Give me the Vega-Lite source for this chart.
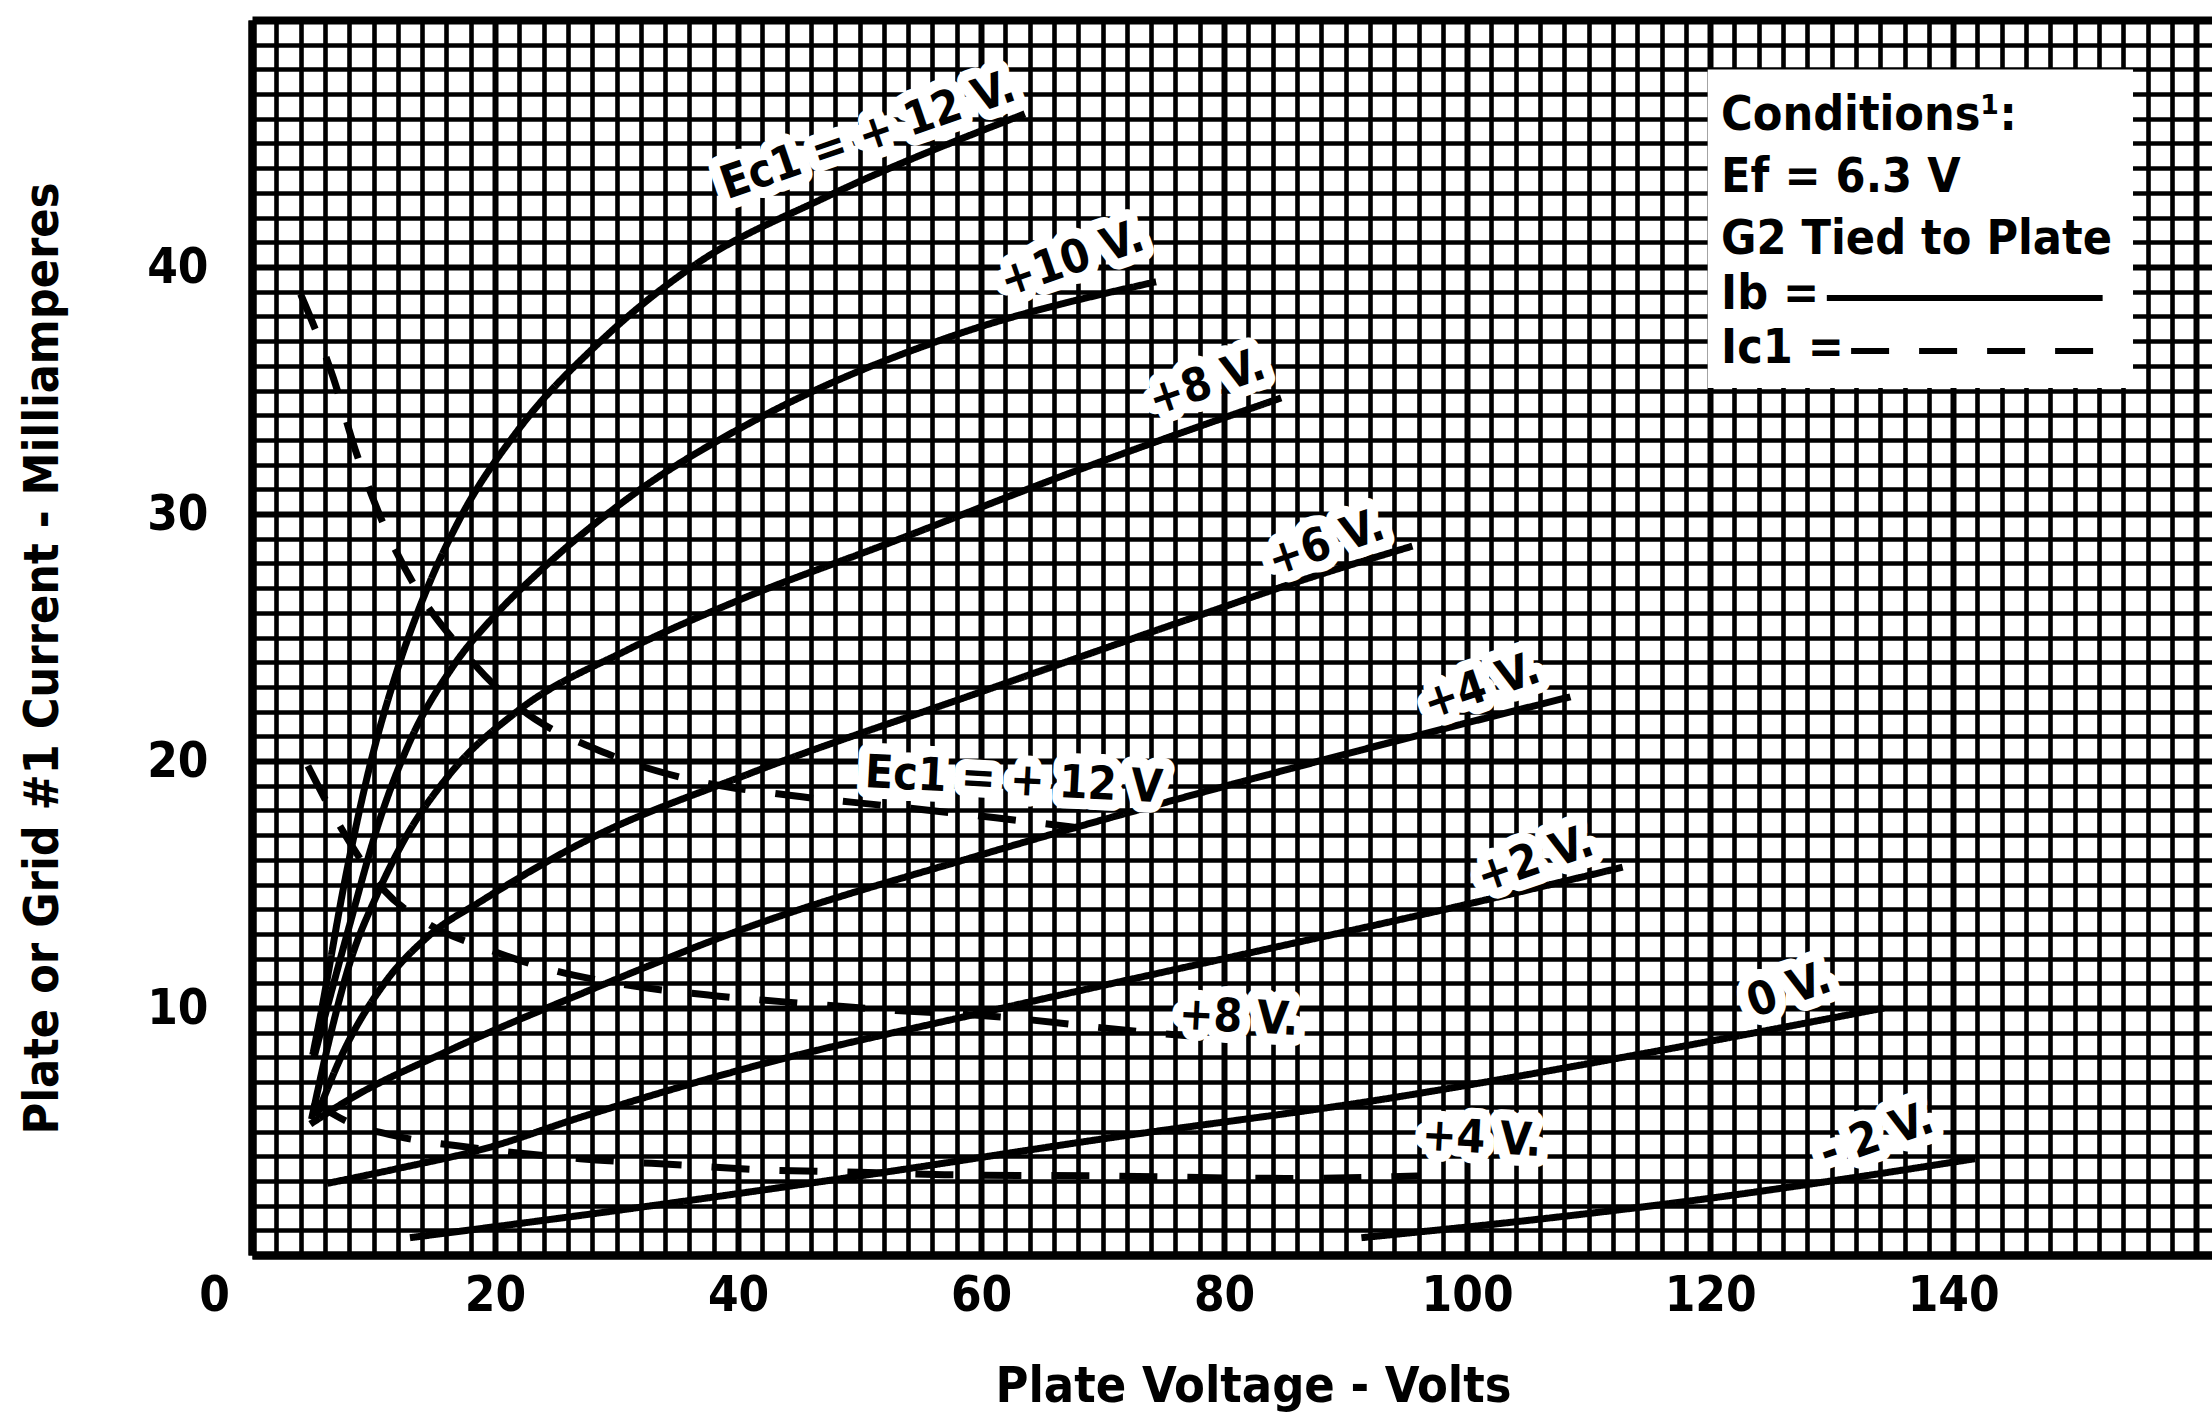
{
  "$schema": "https://vega.github.io/schema/vega-lite/v6.json",
  "width": 1960,
  "height": 1235,
  "autosize": "none",
  "padding": {"left": 252, "top": 20, "right": 0, "bottom": 160},
  "background": "white",
  "config": {
    "view": {"stroke": null},
    "axis": {
      "labelFont": "Liberation Sans Narrow, DejaVu Sans Condensed, DejaVu Sans, sans-serif",
      "titleFont": "Liberation Sans Narrow, DejaVu Sans Condensed, DejaVu Sans, sans-serif",
      "labelFontWeight": "bold",
      "titleFontWeight": "bold",
      "labelColor": "black",
      "titleColor": "black",
      "domainColor": "black",
      "gridColor": "black",
      "gridOpacity": 1,
      "ticks": false,
      "tickCount": 200
    },
    "text": {"font": "Liberation Sans Narrow, DejaVu Sans Condensed, DejaVu Sans, sans-serif", "fontWeight": "bold"}
  },
  "datasets": {
    "curves": [
      {"c": "ib12", "kind": "Ib", "v": 5.0, "i": 8.1},
      {"c": "ib12", "kind": "Ib", "v": 5.6, "i": 9.6},
      {"c": "ib12", "kind": "Ib", "v": 7.7, "i": 15.3},
      {"c": "ib12", "kind": "Ib", "v": 9.8, "i": 20.0},
      {"c": "ib12", "kind": "Ib", "v": 11.9, "i": 23.6},
      {"c": "ib12", "kind": "Ib", "v": 14.6, "i": 27.2},
      {"c": "ib12", "kind": "Ib", "v": 17.1, "i": 29.8},
      {"c": "ib12", "kind": "Ib", "v": 21.9, "i": 33.4},
      {"c": "ib12", "kind": "Ib", "v": 28.7, "i": 37.0},
      {"c": "ib12", "kind": "Ib", "v": 36.5, "i": 40.1},
      {"c": "ib12", "kind": "Ib", "v": 47.1, "i": 42.8},
      {"c": "ib12", "kind": "Ib", "v": 63.6, "i": 46.2},
      {"c": "ib10", "kind": "Ib", "v": 5.1, "i": 8.0},
      {"c": "ib10", "kind": "Ib", "v": 8.0, "i": 13.3},
      {"c": "ib10", "kind": "Ib", "v": 10.5, "i": 17.6},
      {"c": "ib10", "kind": "Ib", "v": 13.0, "i": 20.8},
      {"c": "ib10", "kind": "Ib", "v": 16.5, "i": 23.8},
      {"c": "ib10", "kind": "Ib", "v": 20.0, "i": 25.9},
      {"c": "ib10", "kind": "Ib", "v": 23.5, "i": 27.6},
      {"c": "ib10", "kind": "Ib", "v": 31.4, "i": 30.8},
      {"c": "ib10", "kind": "Ib", "v": 41.8, "i": 33.9},
      {"c": "ib10", "kind": "Ib", "v": 57.6, "i": 37.2},
      {"c": "ib10", "kind": "Ib", "v": 74.4, "i": 39.4},
      {"c": "ib8", "kind": "Ib", "v": 4.9, "i": 5.5},
      {"c": "ib8", "kind": "Ib", "v": 6.5, "i": 9.0},
      {"c": "ib8", "kind": "Ib", "v": 8.1, "i": 11.9},
      {"c": "ib8", "kind": "Ib", "v": 10.3, "i": 14.6},
      {"c": "ib8", "kind": "Ib", "v": 12.3, "i": 16.6},
      {"c": "ib8", "kind": "Ib", "v": 16.5, "i": 19.6},
      {"c": "ib8", "kind": "Ib", "v": 21.8, "i": 22.0},
      {"c": "ib8", "kind": "Ib", "v": 30.9, "i": 24.5},
      {"c": "ib8", "kind": "Ib", "v": 40.0, "i": 26.5},
      {"c": "ib8", "kind": "Ib", "v": 52.3, "i": 28.8},
      {"c": "ib8", "kind": "Ib", "v": 68.1, "i": 31.8},
      {"c": "ib8", "kind": "Ib", "v": 84.7, "i": 34.7},
      {"c": "ib6", "kind": "Ib", "v": 5.3, "i": 5.6},
      {"c": "ib6", "kind": "Ib", "v": 7.5, "i": 8.2},
      {"c": "ib6", "kind": "Ib", "v": 10.9, "i": 11.0},
      {"c": "ib6", "kind": "Ib", "v": 14.5, "i": 12.9},
      {"c": "ib6", "kind": "Ib", "v": 19.1, "i": 14.4},
      {"c": "ib6", "kind": "Ib", "v": 27.2, "i": 16.7},
      {"c": "ib6", "kind": "Ib", "v": 41.0, "i": 19.5},
      {"c": "ib6", "kind": "Ib", "v": 60.0, "i": 22.8},
      {"c": "ib6", "kind": "Ib", "v": 78.0, "i": 25.9},
      {"c": "ib6", "kind": "Ib", "v": 86.3, "i": 27.3},
      {"c": "ib6", "kind": "Ib", "v": 95.5, "i": 28.7},
      {"c": "ib4", "kind": "Ib", "v": 4.8, "i": 5.3},
      {"c": "ib4", "kind": "Ib", "v": 8.0, "i": 6.3},
      {"c": "ib4", "kind": "Ib", "v": 16.3, "i": 8.3},
      {"c": "ib4", "kind": "Ib", "v": 27.2, "i": 10.6},
      {"c": "ib4", "kind": "Ib", "v": 41.0, "i": 13.3},
      {"c": "ib4", "kind": "Ib", "v": 60.0, "i": 16.2},
      {"c": "ib4", "kind": "Ib", "v": 86.3, "i": 19.8},
      {"c": "ib4", "kind": "Ib", "v": 108.5, "i": 22.6},
      {"c": "ib2", "kind": "Ib", "v": 6.2, "i": 2.9},
      {"c": "ib2", "kind": "Ib", "v": 12.0, "i": 3.5},
      {"c": "ib2", "kind": "Ib", "v": 19.1, "i": 4.3},
      {"c": "ib2", "kind": "Ib", "v": 27.2, "i": 5.6},
      {"c": "ib2", "kind": "Ib", "v": 41.0, "i": 7.6},
      {"c": "ib2", "kind": "Ib", "v": 60.0, "i": 9.8},
      {"c": "ib2", "kind": "Ib", "v": 80.0, "i": 12.0},
      {"c": "ib2", "kind": "Ib", "v": 100.0, "i": 14.2},
      {"c": "ib2", "kind": "Ib", "v": 112.8, "i": 15.7},
      {"c": "ib0", "kind": "Ib", "v": 13.0, "i": 0.7},
      {"c": "ib0", "kind": "Ib", "v": 30.0, "i": 1.8},
      {"c": "ib0", "kind": "Ib", "v": 50.0, "i": 3.2},
      {"c": "ib0", "kind": "Ib", "v": 70.0, "i": 4.7},
      {"c": "ib0", "kind": "Ib", "v": 93.0, "i": 6.3},
      {"c": "ib0", "kind": "Ib", "v": 115.0, "i": 8.2},
      {"c": "ib0", "kind": "Ib", "v": 134.3, "i": 10.0},
      {"c": "ibm2", "kind": "Ib", "v": 91.3, "i": 0.7},
      {"c": "ibm2", "kind": "Ib", "v": 105.0, "i": 1.4},
      {"c": "ibm2", "kind": "Ib", "v": 118.5, "i": 2.2},
      {"c": "ibm2", "kind": "Ib", "v": 130.0, "i": 3.0},
      {"c": "ibm2", "kind": "Ib", "v": 141.8, "i": 3.9},
      {"c": "ic12", "kind": "Ic1", "v": 4.0, "i": 38.9},
      {"c": "ic12", "kind": "Ic1", "v": 6.7, "i": 35.5},
      {"c": "ic12", "kind": "Ic1", "v": 8.5, "i": 32.6},
      {"c": "ic12", "kind": "Ic1", "v": 10.9, "i": 29.5},
      {"c": "ic12", "kind": "Ic1", "v": 13.5, "i": 27.0},
      {"c": "ic12", "kind": "Ic1", "v": 17.1, "i": 24.6},
      {"c": "ic12", "kind": "Ic1", "v": 21.9, "i": 22.2},
      {"c": "ic12", "kind": "Ic1", "v": 29.2, "i": 20.3},
      {"c": "ic12", "kind": "Ic1", "v": 35.6, "i": 19.3},
      {"c": "ic12", "kind": "Ic1", "v": 44.4, "i": 18.6},
      {"c": "ic12", "kind": "Ic1", "v": 52.0, "i": 18.2},
      {"c": "ic12", "kind": "Ic1", "v": 61.2, "i": 17.7},
      {"c": "ic12", "kind": "Ic1", "v": 68.0, "i": 17.3},
      {"c": "ic8", "kind": "Ic1", "v": 4.6, "i": 19.8},
      {"c": "ic8", "kind": "Ic1", "v": 7.2, "i": 17.4},
      {"c": "ic8", "kind": "Ic1", "v": 10.8, "i": 14.8},
      {"c": "ic8", "kind": "Ic1", "v": 14.5, "i": 13.4},
      {"c": "ic8", "kind": "Ic1", "v": 19.3, "i": 12.4},
      {"c": "ic8", "kind": "Ic1", "v": 25.0, "i": 11.5},
      {"c": "ic8", "kind": "Ic1", "v": 30.0, "i": 11.0},
      {"c": "ic8", "kind": "Ic1", "v": 38.0, "i": 10.5},
      {"c": "ic8", "kind": "Ic1", "v": 45.0, "i": 10.2},
      {"c": "ic8", "kind": "Ic1", "v": 53.0, "i": 9.9},
      {"c": "ic8", "kind": "Ic1", "v": 60.0, "i": 9.7},
      {"c": "ic8", "kind": "Ic1", "v": 74.0, "i": 9.0},
      {"c": "ic8", "kind": "Ic1", "v": 79.0, "i": 8.8},
      {"c": "ic4", "kind": "Ic1", "v": 5.0, "i": 6.2},
      {"c": "ic4", "kind": "Ic1", "v": 8.3, "i": 5.3},
      {"c": "ic4", "kind": "Ic1", "v": 12.0, "i": 4.8},
      {"c": "ic4", "kind": "Ic1", "v": 18.0, "i": 4.35},
      {"c": "ic4", "kind": "Ic1", "v": 27.0, "i": 3.9},
      {"c": "ic4", "kind": "Ic1", "v": 35.0, "i": 3.65},
      {"c": "ic4", "kind": "Ic1", "v": 42.0, "i": 3.45},
      {"c": "ic4", "kind": "Ic1", "v": 50.0, "i": 3.35},
      {"c": "ic4", "kind": "Ic1", "v": 57.0, "i": 3.25},
      {"c": "ic4", "kind": "Ic1", "v": 70.0, "i": 3.2},
      {"c": "ic4", "kind": "Ic1", "v": 85.0, "i": 3.1},
      {"c": "ic4", "kind": "Ic1", "v": 96.0, "i": 3.2}
    ],
    "labels": [
      {"kind": "Ib", "t": "Ec1 = + 12 V.", "v": 50.7, "i": 45.3},
      {"kind": "Ib", "t": "+10 V.", "v": 67.5, "i": 40.3},
      {"kind": "Ib", "t": "+8 V.", "v": 78.6, "i": 35.3},
      {"kind": "Ib", "t": "+6 V.", "v": 88.4, "i": 28.8},
      {"kind": "Ib", "t": "+4 V.", "v": 101.2, "i": 23.0},
      {"kind": "Ib", "t": "+2 V.", "v": 105.6, "i": 16.0},
      {"kind": "Ib", "t": "0 V.", "v": 126.5, "i": 10.7},
      {"kind": "Ib", "t": "- 2 V.", "v": 133.7, "i": 4.8},
      {"kind": "Ic1", "t": "Ec1 = + 12 V", "v": 62.7, "i": 19.2},
      {"kind": "Ic1", "t": "+8 V.", "v": 81.2, "i": 9.6},
      {"kind": "Ic1", "t": "+4 V.", "v": 101.2, "i": 4.7}
    ],
    "notes": [
      {"t": "Conditions¹:", "v": 120.9, "i": 46.1},
      {"t": "Ef = 6.3 V", "v": 120.9, "i": 43.6},
      {"t": "G2 Tied to Plate", "v": 120.9, "i": 41.1},
      {"t": "Ib =", "v": 120.9, "i": 38.85},
      {"t": "Ic1 =", "v": 120.9, "i": 36.7}
    ],
    "keys": [
      {"kind": "Ib", "v1": 129.6, "v2": 152.3, "i": 38.75},
      {"kind": "Ic1", "v1": 131.6, "v2": 151.8, "i": 36.6}
    ],
    "box": [
      {"v1": 119.8, "v2": 154.8, "i1": 48.0, "i2": 35.1}
    ]
  },
  "layer": [
    {
      "data": {"name": "curves"},
      "mark": {"type": "line", "interpolate": "monotone", "strokeWidth": 7, "color": "black", "clip": true},
      "encoding": {
        "x": {
          "field": "v",
          "type": "quantitative",
          "scale": {"domain": [0, 161.3], "nice": false, "zero": false},
          "axis": {
            "title": "Plate Voltage - Volts",
            "values": [0,2,4,6,8,10,12,14,16,18,20,22,24,26,28,30,32,34,36,38,40,42,44,46,48,50,52,54,56,58,60,62,64,66,68,70,72,74,76,78,80,82,84,86,88,90,92,94,96,98,100,102,104,106,108,110,112,114,116,118,120,122,124,126,128,130,132,134,136,138,140,142,144,146,148,150,152,154,156,158,160],
            "tickCount": 200,
            "format": "d",
            "labelExpr": "datum.value % 20 == 0 && datum.value <= 140 ? datum.label : ''",
            "labelFontSize": 49,
            "labelPadding": 16,
            "labelFlush": false,
            "labelOverlap": false,
            "labelBound": false,
            "labelOffset": {"condition": {"test": "datum.value == 0", "value": -38}, "value": 0},
            "domainWidth": 8,
            "gridWidth": {"condition": [{"test": "datum.value == 0", "value": 8}, {"test": "datum.value % 20 == 0", "value": 6}], "value": 4.6},
            "titleFontSize": 50,
            "titleX": 1001,
            "titleY": 146,
            "titleBaseline": "alphabetic",
            "titleAlign": "center"
          }
        },
        "y": {
          "field": "i",
          "type": "quantitative",
          "scale": {"domain": [0, 50], "nice": false},
          "axis": {
            "title": "Plate or Grid #1 Current - Milliamperes",
            "values": [0,1,2,3,4,5,6,7,8,9,10,11,12,13,14,15,16,17,18,19,20,21,22,23,24,25,26,27,28,29,30,31,32,33,34,35,36,37,38,39,40,41,42,43,44,45,46,47,48,49,50],
            "tickCount": 200,
            "format": "d",
            "labelExpr": "datum.value % 10 == 0 && datum.value > 0 && datum.value < 50 ? datum.label : ''",
            "labelFontSize": 49,
            "labelPadding": 44,
            "labelFlush": false,
            "labelOverlap": false,
            "labelBound": false,
            "domainWidth": 8,
            "gridWidth": {"condition": [{"test": "datum.value == 0 || datum.value == 50", "value": 8}, {"test": "datum.value % 10 == 0", "value": 6}], "value": 4.6},
            "titleFontSize": 48,
            "titleAngle": -90,
            "titleX": -195,
            "titleY": 638,
            "titleBaseline": "alphabetic",
            "titleAlign": "center"
          }
        },
        "detail": {"field": "c", "type": "nominal"},
        "strokeDash": {
          "field": "kind",
          "type": "nominal",
          "scale": {"domain": ["Ib", "Ic1"], "range": [[1, 0], [38, 30]]},
          "legend": null
        }
      }
    },
    {
      "data": {"name": "box"},
      "mark": {"type": "rect", "color": "white"},
      "encoding": {
        "x": {"field": "v1", "type": "quantitative"},
        "x2": {"field": "v2"},
        "y": {"field": "i1", "type": "quantitative"},
        "y2": {"field": "i2"}
      }
    },
    {
      "data": {"name": "keys"},
      "mark": {"type": "rule", "strokeWidth": 6, "color": "black"},
      "encoding": {
        "x": {"field": "v1", "type": "quantitative"},
        "x2": {"field": "v2"},
        "y": {"field": "i", "type": "quantitative"},
        "strokeDash": {"field": "kind", "type": "nominal", "legend": null}
      }
    },
    {
      "data": {"name": "notes"},
      "mark": {"type": "text", "align": "left", "baseline": "middle", "fontSize": 48, "color": "black"},
      "encoding": {
        "x": {"field": "v", "type": "quantitative"},
        "y": {"field": "i", "type": "quantitative"},
        "text": {"field": "t"}
      }
    },
    {
      "data": {"name": "labels"},
      "transform": [{"filter": "datum.kind == 'Ib'"}],
      "mark": {"type": "text", "align": "center", "baseline": "middle", "fontSize": 46, "angle": -19, "fill": "white", "stroke": "white", "strokeWidth": 22, "strokeJoin": "round"},
      "encoding": {
        "x": {"field": "v", "type": "quantitative"},
        "y": {"field": "i", "type": "quantitative"},
        "text": {"field": "t"}
      }
    },
    {
      "data": {"name": "labels"},
      "transform": [{"filter": "datum.kind == 'Ic1'"}],
      "mark": {"type": "text", "align": "center", "baseline": "middle", "fontSize": 46, "angle": 3, "fill": "white", "stroke": "white", "strokeWidth": 22, "strokeJoin": "round"},
      "encoding": {
        "x": {"field": "v", "type": "quantitative"},
        "y": {"field": "i", "type": "quantitative"},
        "text": {"field": "t"}
      }
    },
    {
      "data": {"name": "labels"},
      "transform": [{"filter": "datum.kind == 'Ib'"}],
      "mark": {"type": "text", "align": "center", "baseline": "middle", "fontSize": 46, "angle": -19, "fill": "black"},
      "encoding": {
        "x": {"field": "v", "type": "quantitative"},
        "y": {"field": "i", "type": "quantitative"},
        "text": {"field": "t"}
      }
    },
    {
      "data": {"name": "labels"},
      "transform": [{"filter": "datum.kind == 'Ic1'"}],
      "mark": {"type": "text", "align": "center", "baseline": "middle", "fontSize": 46, "angle": 3, "fill": "black"},
      "encoding": {
        "x": {"field": "v", "type": "quantitative"},
        "y": {"field": "i", "type": "quantitative"},
        "text": {"field": "t"}
      }
    }
  ]
}
